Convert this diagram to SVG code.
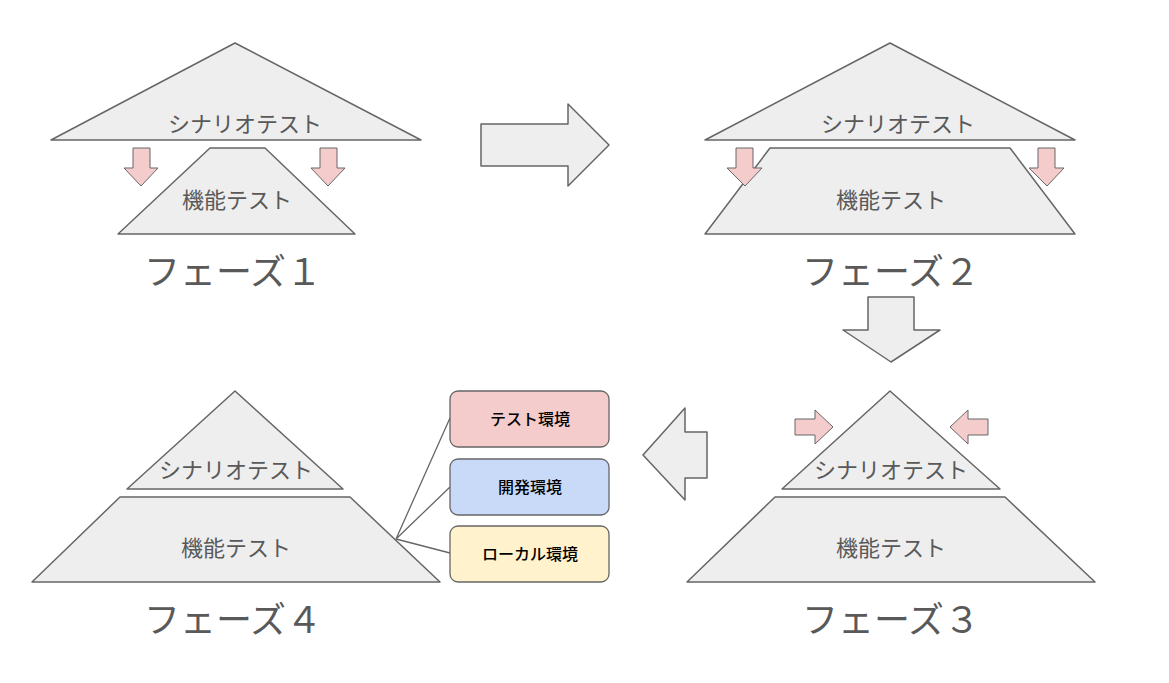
<svg xmlns="http://www.w3.org/2000/svg" width="1169" height="683" viewBox="0 0 1169 683">
<style>
.s{fill:#eeeeee;stroke:#666;stroke-width:1.5;stroke-linejoin:round}
.p{fill:#f4cccc;stroke:#666;stroke-width:1}
.t{font-family:"Noto Sans CJK JP","Noto Sans",sans-serif;fill:#595959;text-anchor:middle}
.m{font-size:22px}
.l{font-size:36px}
.b{font-size:16px;fill:#000;font-weight:500}
.c{stroke:#666;stroke-width:1.3;fill:none}
</style>
<rect width="1169" height="683" fill="#fff"/>
<g id="phase1">
<polygon class="s" points="235,43 421,140 51,140"/>
<text class="t m" x="245" y="132">シナリオテスト</text>
<polygon class="s" points="210,148 265,148 355,234 118,234"/>
<text class="t m" x="237" y="208">機能テスト</text>
<polygon class="p" points="133,148 150,148 150,168 158,168 141,186 124,168 133,168"/>
<polygon class="p" points="320,148 337,148 337,168 345,168 328,186 311,168 320,168"/>
<text class="t l" x="233" y="285">フェーズ１</text>
</g>
<g id="phase2">
<polygon class="s" points="890,43 1075,140 705,140"/>
<text class="t m" x="898" y="132">シナリオテスト</text>
<polygon class="s" points="770,148 1010,148 1075,234 705,234"/>
<text class="t m" x="891" y="208">機能テスト</text>
<polygon class="p" points="736,148 753,148 753,168 762,168 745,186 727,168 736,168"/>
<polygon class="p" points="1038,148 1055,148 1055,168 1064,168 1047,186 1029,168 1038,168"/>
<text class="t l" x="891" y="285">フェーズ２</text>
</g>
<g id="phase3">
<polygon class="s" points="890,391 1000,489 782,489"/>
<text class="t m" x="891" y="478">シナリオテスト</text>
<polygon class="s" points="775,497 1005,497 1095,582 687,582"/>
<text class="t m" x="891" y="556">機能テスト</text>
<polygon class="p" points="795,419 815,419 815,410 833,427 815,444 815,435 795,435"/>
<polygon class="p" points="988,419 968,419 968,410 950,427 968,444 968,435 988,435"/>
<text class="t l" x="891" y="633">フェーズ３</text>
</g>
<g id="phase4">
<polygon class="s" points="235,391 343,489 127,489"/>
<text class="t m" x="236" y="478">シナリオテスト</text>
<polygon class="s" points="120,497 350,497 440,582 32,582"/>
<text class="t m" x="236" y="556">機能テスト</text>
<text class="t l" x="233" y="633">フェーズ４</text>
</g>
<g id="env-test"><rect x="450" y="391" width="159" height="56" rx="8" fill="#f4cccc" stroke="#666" stroke-width="1.3"/><text class="t b" x="530" y="425">テスト環境</text></g>
<g id="env-dev"><rect x="450" y="459" width="159" height="56" rx="8" fill="#c9daf8" stroke="#666" stroke-width="1.3"/><text class="t b" x="530" y="493">開発環境</text></g>
<g id="env-local"><rect x="450" y="526" width="159" height="56" rx="8" fill="#fff2cc" stroke="#666" stroke-width="1.3"/><text class="t b" x="530" y="560">ローカル環境</text></g>
<g id="connectors">
<polygon class="s" points="481,124 568,124 568,104 609,145 568,186 568,166 481,166"/>
<polygon class="s" points="868,297 914,297 914,330 940,330 891,362 843,330 868,330"/>
<polygon class="s" points="707,432 685,432 685,408 643,455 685,500 685,478 707,478"/>
<path class="c" d="M396,539 L450,418 M396,539 L450,487 M396,539 L450,553"/>
</g>
</svg>
